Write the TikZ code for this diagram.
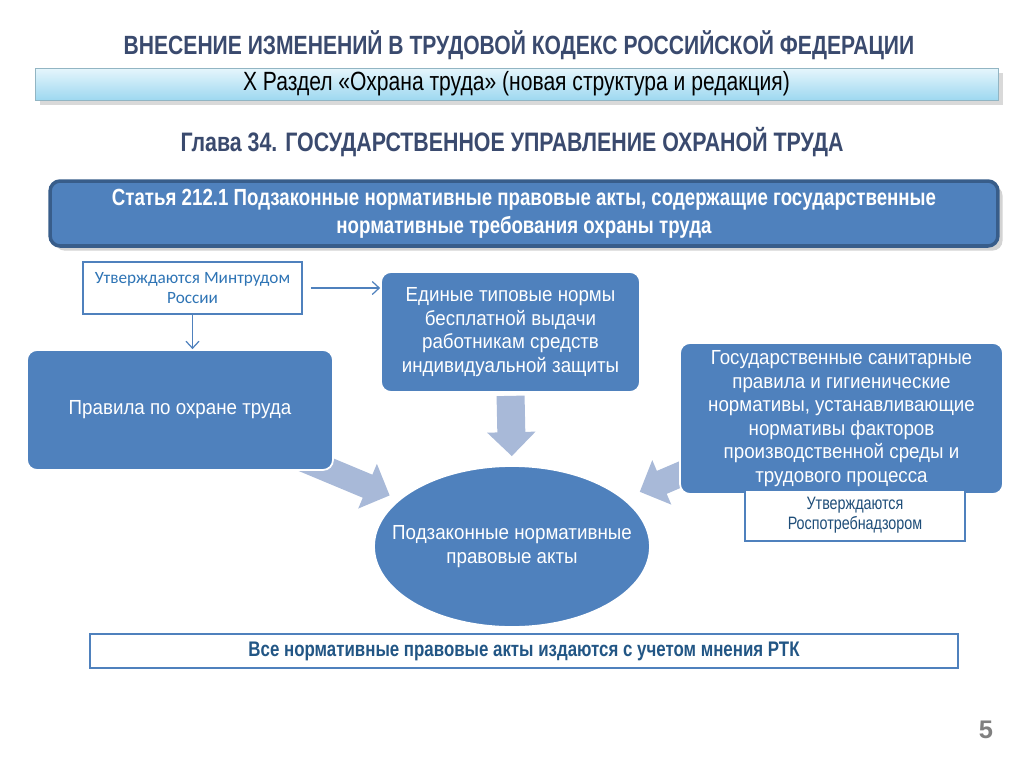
\documentclass[tikz,border=0pt]{standalone}
\usepackage{fontspec}
\setmainfont{Liberation Sans}
\newfontfamily\narrowfont{Liberation Sans}[FakeStretch=0.8]
\newfontfamily\boxfont{Liberation Sans}[FakeStretch=0.92]
\newfontfamily\calibrifont{Carlito}
\usetikzlibrary{arrows.meta, shapes.geometric, shadows}
\definecolor{boxblue}{HTML}{4F81BD}
\definecolor{boxedge}{HTML}{385D8A}
\definecolor{titleblue}{HTML}{3A4A6E}
\definecolor{arrowgray}{HTML}{A8B9D8}
\definecolor{bannertop}{HTML}{E6F6FC}
\definecolor{bannerbot}{HTML}{9ED8F0}
\definecolor{inkblue}{HTML}{2E74B5}
\definecolor{darkink}{HTML}{1F4E79}
\pgfdeclarelayer{bg}
\pgfsetlayers{bg,main}

\begin{document}
\begin{tikzpicture}[x=0.02cm, y=-0.02cm,
    bluebox/.style={draw=white, line width=1pt, fill=boxblue, rounded corners=0.2cm, text=white, align=center, font=\boxfont\fontsize{11.6}{13.4}\selectfont},
    notebox/.style={draw=boxblue, line width=1pt, fill=white, align=center},
    blockarr/.style={draw=arrowgray, line width=0.56cm, -{Triangle[width=0.94cm, length=0.48cm]}},
    thinarr/.style={draw=boxblue, line width=0.7pt, -{Straight Barb[length=1.4mm, width=2.6mm]}}]
\useasboundingbox (0,0) rectangle (1024,767);

% headings
\node[text=titleblue, font=\narrowfont\bfseries\fontsize{15}{17}\selectfont] (title) at (519,45) {ВНЕСЕНИЕ ИЗМЕНЕНИЙ В ТРУДОВОЙ КОДЕКС РОССИЙСКОЙ ФЕДЕРАЦИИ};
\node[draw=bannerbot!60!gray, top color=bannertop, bottom color=bannerbot, drop shadow={opacity=0.3},
      minimum width=19.26cm, minimum height=0.64cm, inner sep=0pt, font=\narrowfont\fontsize{15}{16}\selectfont] (banner) at (516.5,84)
      {X Раздел «Охрана труда» (новая структура и редакция)};
\node[text=titleblue, font=\narrowfont\bfseries\fontsize{15.2}{17}\selectfont] (chapter) at (512,142) {Глава 34. ГОСУДАРСТВЕННОЕ УПРАВЛЕНИЕ ОХРАНОЙ ТРУДА};

% article
\node[bluebox, draw=boxedge, line width=2pt, drop shadow={opacity=0.35}, minimum width=18.96cm, minimum height=1.3cm, inner sep=0pt,
      font=\narrowfont\bfseries\fontsize{13.3}{15.9}\selectfont] (article) at (524,213.5)
      {Статья 212.1 Подзаконные нормативные правовые акты, содержащие государственные\\нормативные требования охраны труда};

% boxes
\node[notebox, minimum width=4.38cm, minimum height=1.04cm, inner sep=0pt, text=inkblue, font=\calibrifont\fontsize{9.8}{11.4}\selectfont] (mintrud) at (192.5,288)
      {Утверждаются Минтрудом\\России};
\node[bluebox, minimum width=6.12cm, minimum height=2.4cm] (rules) at (180,410) {Правила по охране труда};
\node[bluebox, minimum width=5.18cm, minimum height=2.4cm] (norms) at (510.5,332)
      {Единые типовые нормы\\бесплатной выдачи\\работникам средств\\индивидуальной защиты};
\node[bluebox, minimum width=6.46cm, minimum height=3.02cm] (sanit) at (841.5,418.5)
      {Государственные санитарные\\правила и гигиенические\\нормативы, устанавливающие\\нормативы факторов\\производственной среды и\\трудового процесса};
\node[notebox, minimum width=4.4cm, minimum height=1.02cm, inner sep=0pt, text=darkink, font=\narrowfont\fontsize{10.2}{11.4}\selectfont] (rospotreb) at (855,515.5)
      {Утверждаются\\Роспотребнадзором};
\node[ellipse, fill=boxblue, draw=white, line width=1pt, minimum width=5.52cm, minimum height=3.22cm, inner sep=0pt,
      label={[align=center, text=white, font=\boxfont\fontsize{11.6}{13.4}\selectfont]center:Подзаконные нормативные\\правовые акты}] (acts) at (512,546.5) {};
\node[notebox, line width=1.6pt, minimum width=17.36cm, minimum height=0.68cm, inner sep=0pt, text=darkink!80!inkblue,
      font=\narrowfont\bfseries\fontsize{12}{14}\selectfont] (rtk) at (524,651)
      {Все нормативные правовые акты издаются с учетом мнения РТК};
\node[text=gray, font=\bfseries\fontsize{14.5}{16}\selectfont] (page) at (986,730) {5};

% arrows
\coordinate (lstart) at (300,458);
\coordinate (rstart) at (700,466);
\begin{pgfonlayer}{bg}
\draw[blockarr, shorten <=0.06cm, shorten >=0.18cm] (norms.south) -- (acts.north);
\draw[blockarr, line width=0.5cm, shorten >=0.2cm] (lstart) -- (acts);
\draw[blockarr, line width=0.5cm, shorten >=0.34cm] (rstart) -- (acts);
\end{pgfonlayer}
\draw[thinarr, shorten <=0.16cm] (mintrud.east) -- (mintrud.east -| norms.west);
\draw[thinarr] (mintrud.south) -- (mintrud.south |- rules.north);
\end{tikzpicture}
\end{document}
